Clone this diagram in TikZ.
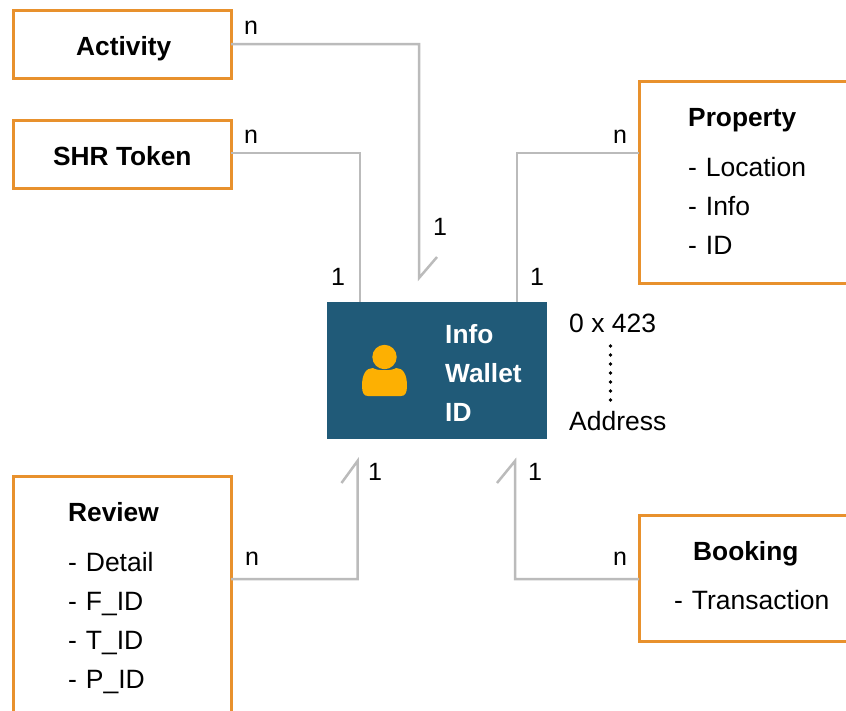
\documentclass[tikz,border=0pt]{standalone}
\usepackage{fontspec}
\setmainfont{Liberation Sans}
\definecolor{boxorange}{HTML}{E8912D}
\definecolor{linkgray}{HTML}{BBBBBB}
\definecolor{walletblue}{HTML}{205A78}
\definecolor{iconyellow}{HTML}{FDB002}
\newcommand{\dashitem}[1]{-\hspace{1.5pt} #1}
\tikzset{
  entity/.style={draw=boxorange,line width=3pt,fill=white,inner sep=0pt,outer sep=0pt,minimum width=218pt,anchor=north west},
  link/.style={draw=linkgray,line width=2.5pt,line join=miter},
  txt/.style={anchor=base west,inner sep=0pt,font=\fontsize{26.5}{30}\selectfont},
  btxt/.style={txt,font=\fontsize{26.3}{30}\selectfont\bfseries},
  wtxt/.style={btxt,text=white},
  card/.style={txt,font=\fontsize{25}{30}\selectfont}
}
\begin{document}
\begin{tikzpicture}[x=1pt,y=-1pt]
\useasboundingbox (0,0) rectangle (846,710);
\clip (0,0) rectangle (846,710);
% boxes
\node[entity,minimum height=68pt] (activity) at (13,10) {};
\node[entity,minimum height=68pt] (shr) at (13,120) {};
\node[entity,minimum height=202pt] (property) at (639,81) {};
\node[entity,minimum height=126pt] (booking) at (639,515) {};
\node[entity,minimum height=300pt] (review) at (13,476) {};
\node[fill=walletblue,inner sep=0pt,outer sep=0pt,minimum width=220pt,minimum height=137pt,anchor=north west] (wallet) at (327,302) {};
% free ends of the open connectors
\coordinate (actEnd) at (419,278);
\coordinate (actTick) at (437,257);
\coordinate (revEnd) at (357.5,461);
\coordinate (revTick) at (341.5,483);
\coordinate (bookEnd) at (515,461);
\coordinate (bookTick) at (497,483);
% connectors
\draw[link] (activity.east) -| (actEnd) -- (actTick);
\draw[link] ([yshift=1pt]shr.east) -| ([xshift=33pt]wallet.north west);
\draw[link] ([yshift=29pt]property.west) -| ([xshift=190pt]wallet.north west);
\draw[link] ([yshift=47pt]review.east) -| (revEnd) -- (revTick);
\draw[link] ([yshift=-1pt]booking.west) -| (bookEnd) -- (bookTick);
% icon
\fill[iconyellow] (384.5,357) circle (12.2);
\fill[iconyellow] (362,386) .. controls (362,374) and (366,368) .. (373,368)
  .. controls (377,371) and (392,371) .. (396,368)
  .. controls (403,368) and (407,374) .. (407,386)
  .. controls (407,393) and (405,396) .. (401,396) -- (368,396)
  .. controls (364,396) and (362,393) .. (362,386) -- cycle;
% texts
\node[btxt] (tActivity) at (76,55) {Activity};
\node[btxt] (tShr) at (53,165) {SHR Token};
\node[btxt] (tProperty) at (688,126) {Property};
\node[txt] (tLoc) at (688,176) {\dashitem{Location}};
\node[txt] (tInfo) at (688,215) {\dashitem{Info}};
\node[txt] (tId) at (688,254) {\dashitem{ID}};
\node[btxt] (tReview) at (68,521) {Review};
\node[txt] (tDetail) at (68,571) {\dashitem{Detail}};
\node[txt] (tF) at (68,610) {\dashitem{F\_ID}};
\node[txt] (tT) at (68,649) {\dashitem{T\_ID}};
\node[txt] (tP) at (68,688) {\dashitem{P\_ID}};
\node[btxt] (tBooking) at (693,560) {Booking};
\node[txt] (tTrans) at (674,609) {\dashitem{Transaction}};
\node[wtxt] (wInfo) at (445,343) {Info};
\node[wtxt] (wWallet) at (445,382) {Wallet};
\node[wtxt] (wId) at (445,421) {ID};
\node[txt] (hex) at (569,332) {0 x 423};
\node[txt] (addr) at (569,430) {Address};
\draw[line width=3.8pt,line cap=round,dash pattern=on 0pt off 9pt] (610.5,346) -- (610.5,401);
% cardinalities
\node[card] (n1) at (244,34) {n};
\node[card] (n2) at (244,143) {n};
\node[card] (n3) at (613,143) {n};
\node[card] (n4) at (245,565) {n};
\node[card] (n5) at (613,565) {n};
\node[card] (o1) at (433,235) {1};
\node[card] (o2) at (331,285) {1};
\node[card] (o3) at (530,285) {1};
\node[card] (o4) at (368,480) {1};
\node[card] (o5) at (528,480) {1};
\end{tikzpicture}
\end{document}
